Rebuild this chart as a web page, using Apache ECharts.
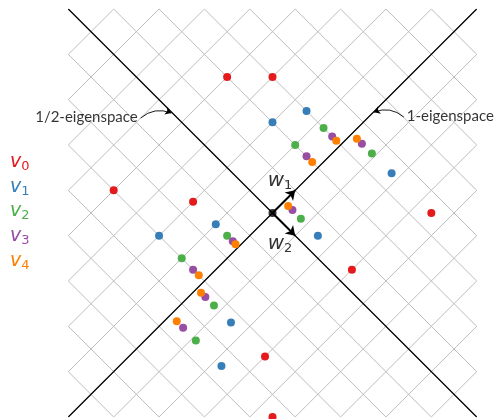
<!DOCTYPE html>
<html><head><meta charset="utf-8">
<script src="https://cdn.jsdelivr.net/npm/echarts@6/dist/echarts.min.js"></script>
<style>html,body{margin:0;padding:0;background:#fff}#c{width:497px;height:419px}</style>
</head><body><div id="c"></div>
<script>
// Series (iterates v0..v4), coordinates in the plot's x/y units
const seriesNames = ['v0', 'v1', 'v2', 'v3', 'v4'];
const seriesColors = ['#e41a1c', '#377eb8', '#4daf4a', '#984ea3', '#ff7f00'];
const v0 = [[-2, 6], [0, 6], [-7, 1], [-3.5, 0.5], [7, 0], [3.5, -2.5], [-0.33, -6.33], [0, -9]];
const v1 = [[0, 4], [1.5, 4.5], [-5, -1], [-2.5, -0.5], [5.25, 1.75], [2, -1], [-1.83, -4.83], [-2.25, -6.75]];
const v2 = [[1, 3], [2.25, 3.75], [-4, -2], [-2, -1], [4.38, 2.63], [1.25, -0.25], [-2.58, -4.08], [-3.38, -5.63]];
const v3 = [[1.5, 2.5], [2.63, 3.38], [-3.5, -2.5], [-1.75, -1.25], [3.94, 3.06], [0.88, 0.13], [-2.96, -3.71], [-3.94, -5.06]];
const v4 = [[1.75, 2.25], [2.81, 3.19], [-3.25, -2.75], [-1.63, -1.38], [3.72, 3.28], [0.69, 0.31], [-3.15, -3.52], [-4.22, -4.78]];
const seriesValues = [v0, v1, v2, v3, v4];

// Eigenvectors
const w1 = [1, 1];
const w2 = [1, -1];
const origin = [0, 0];

// Axis extent and grid step
const axisMin = -9, axisMax = 9, gridStep = 2;

// Annotations
const labelHalf = '1/2-eigenspace';
const labelOne = '1-eigenspace';
const labelHalfAnchor = [-5.94, 4.23];
const labelOneAnchor = [5.92, 4.27];
const arrowHalf = [[-5.81, 4.19], [-4.46, 4.41]];
const arrowOne = [[5.79, 4.23], [4.47, 4.45]];
const w1LabelAnchor = [0.33, 1.42];
const w2LabelAnchor = [0.33, -1.38];

// Rotated grid lines (x+y = c, x-y = c)
const gridLines = [];
for (let c = axisMin * 2 + gridStep; c <= axisMax * 2 - gridStep; c += gridStep) {
  const a1 = Math.max(axisMin, c + axisMin), a2 = Math.min(axisMax, c + axisMax);
  gridLines.push({ coords: [[a1, c - a1], [a2, c - a2]] });
  gridLines.push({ coords: [[a1, a1 - c], [a2, a2 - c]] });
}
const eigenLines = [
  { coords: [[axisMin, axisMin], [axisMax, axisMax]] },
  { coords: [[axisMin, axisMax], [axisMax, axisMin]] }
];

const chart = echarts.init(document.getElementById('c'), null, { renderer: 'canvas' });

const rich = {};
seriesNames.forEach((n, i) => {
  rich['v' + i] = { color: seriesColors[i], fontFamily: 'DejaVu Sans', fontStyle: 'italic', fontSize: 19, lineHeight: 22 };
  rich['s' + i] = { color: seriesColors[i], fontFamily: 'DejaVu Sans', fontSize: 13, lineHeight: 22, padding: [9, 0, 0, 0] };
});

const pointSeries = seriesNames.map((n, i) => ({
  name: n,
  type: 'scatter',
  data: seriesValues[i],
  symbolSize: 8,
  itemStyle: { color: seriesColors[i], opacity: 1 },
  clip: false,
  z: 10 + i,
  silent: true
}));

const option = {
  animation: false,
  backgroundColor: '#fff',
  grid: { left: 68.3, top: 9, width: 408.4, height: 408, containLabel: false },
  xAxis: { type: 'value', min: axisMin, max: axisMax, show: false },
  yAxis: { type: 'value', min: axisMin, max: axisMax, show: false },
  legend: {
    orient: 'vertical',
    left: 5,
    top: 151,
    padding: 0,
    icon: 'none',
    itemWidth: 0,
    itemHeight: 20,
    itemGap: 2.7,
    selectedMode: false,
    data: seriesNames,
    formatter: name => {
      const i = seriesNames.indexOf(name);
      return '{v' + i + '|v}{s' + i + '|' + name.slice(1) + '}';
    },
    textStyle: { rich: rich }
  },
  series: [
    {
      type: 'lines', coordinateSystem: 'cartesian2d', silent: true, z: 1,
      data: gridLines,
      lineStyle: { color: '#bdbdbd', width: 1, opacity: 1 },
      symbol: 'none'
    },
    {
      type: 'lines', coordinateSystem: 'cartesian2d', silent: true, z: 2,
      data: eigenLines,
      lineStyle: { color: '#000', width: 1.2, opacity: 1 },
      symbol: 'none'
    },
    {
      type: 'lines', coordinateSystem: 'cartesian2d', silent: true, z: 3,
      data: [{ coords: [origin, w1] }, { coords: [origin, w2] }],
      lineStyle: { color: '#000', width: 2, opacity: 1 },
      symbol: ['none', 'arrow'], symbolSize: [0, 9]
    },
    {
      type: 'lines', coordinateSystem: 'cartesian2d', silent: true, z: 3,
      data: [
        { coords: arrowHalf, lineStyle: { curveness: 0.3 } },
        { coords: arrowOne, lineStyle: { curveness: -0.3 } }
      ],
      lineStyle: { color: '#000', width: 0.9, opacity: 1 },
      symbol: ['none', 'arrow'], symbolSize: [0, 6]
    },
    {
      type: 'scatter', silent: true, z: 4, clip: false,
      data: [origin], symbolSize: 8, itemStyle: { color: '#000' }
    },
    {
      type: 'scatter', silent: true, z: 5, clip: false, symbolSize: 0,
      data: [
        { value: labelHalfAnchor, label: { show: true, position: 'left', distance: 0, formatter: labelHalf } },
        { value: labelOneAnchor, label: { show: true, position: 'right', distance: 0, formatter: labelOne } },
        { value: w1LabelAnchor, label: { show: true, position: 'inside', formatter: '{w|w}{s|1}' } },
        { value: w2LabelAnchor, label: { show: true, position: 'inside', formatter: '{w|w}{s|2}' } }
      ],
      label: {
        color: '#000', fontFamily: 'Lato', fontSize: 15,
        rich: {
          w: { color: '#000', fontFamily: 'DejaVu Sans', fontStyle: 'italic', fontSize: 20, lineHeight: 24 },
          s: { color: '#000', fontFamily: 'DejaVu Sans', fontSize: 13, lineHeight: 24, padding: [9, 0, 0, 0] }
        }
      }
    }
  ].concat(pointSeries)
};
chart.setOption(option);
</script>
</body></html>
